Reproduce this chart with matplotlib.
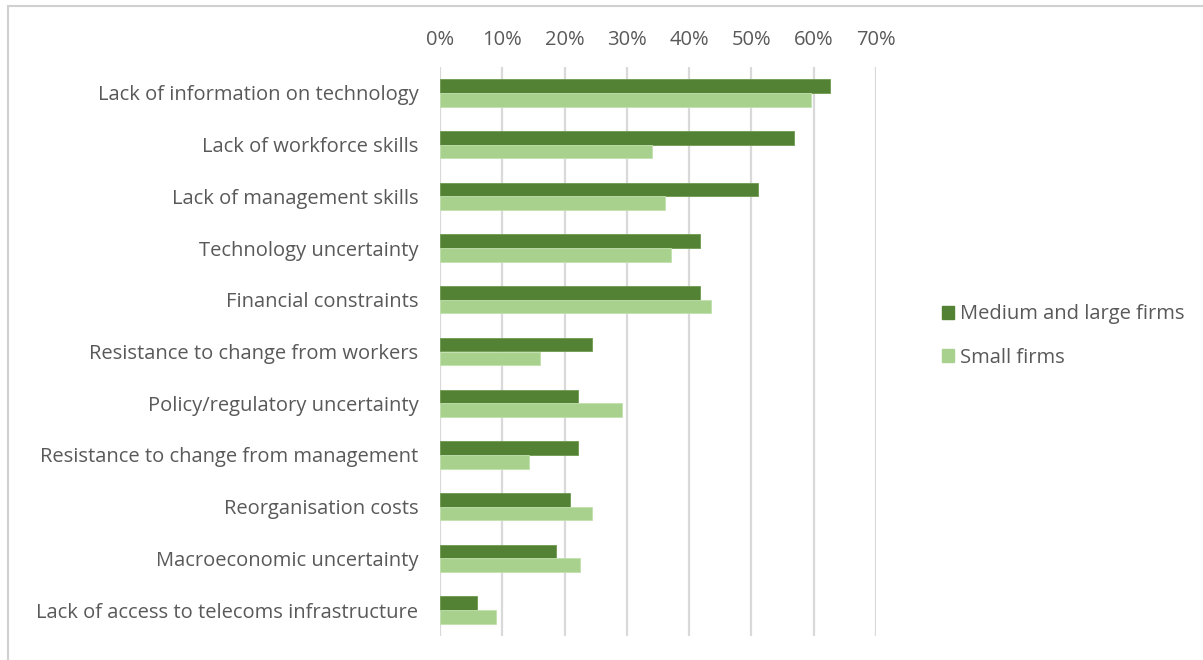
import matplotlib
matplotlib.use("Agg")
import matplotlib.pyplot as plt
from matplotlib.patches import Patch, Rectangle
import numpy as np

categories = [
    "Lack of information on technology",
    "Lack of workforce skills",
    "Lack of management skills",
    "Technology uncertainty",
    "Financial constraints",
    "Resistance to change from workers",
    "Policy/regulatory uncertainty",
    "Resistance to change from management",
    "Reorganisation costs",
    "Macroeconomic uncertainty",
    "Lack of access to telecoms infrastructure",
]
medium_large = [62.6, 56.9, 51.1, 41.8, 41.8, 24.4, 22.2, 22.2, 20.9, 18.7, 6.0]
small = [59.5, 34.0, 36.1, 37.1, 43.5, 16.0, 29.3, 14.3, 24.4, 22.4, 9.0]
series_names = ["Medium and large firms", "Small firms"]
x_ticks = [0, 10, 20, 30, 40, 50, 60, 70]

dark = "#548235"
light = "#A9D18E"
text_c = "#595959"
grid_c = "#D9D9D9"

plt.rcParams["font.family"] = ["Open Sans", "DejaVu Sans"]
fs = 14.5

W, H = 1203, 660
fig = plt.figure(figsize=(W / 100, H / 100), dpi=100)
ax = fig.add_axes([440 / W, 1 - 636 / H, 436 / W, (636 - 67) / H])

y = np.arange(len(categories))
bh = 0.265
ax.barh(y - bh / 2, medium_large, height=bh, color=dark, edgecolor="#6E9A4E", linewidth=0.6, zorder=3)
ax.barh(y + bh / 2, small, height=bh, color=light, edgecolor="#C2E0AE", linewidth=0.6, zorder=3)

ax.set_xlim(0, 70)
ax.set_ylim(len(categories) - 0.5, -0.5)
ax.set_yticks(y)
ax.set_yticklabels(categories, fontsize=fs, color=text_c)
ax.set_xticks(x_ticks)
ax.set_xticklabels([f"{v}%" for v in x_ticks], fontsize=fs, color=text_c)
ax.xaxis.tick_top()
ax.tick_params(axis="x", length=0, pad=12.5)
ax.tick_params(axis="y", length=0, pad=15.5)
ax.grid(axis="x", color=grid_c, linewidth=1.6, zorder=0)
for s in ax.spines.values():
    s.set_visible(False)

handles = [Patch(facecolor=dark, edgecolor=dark), Patch(facecolor=light, edgecolor=light)]
fig.legend(handles, series_names, loc="center left", bbox_to_anchor=(924 / W, 1 - 336 / H),
           frameon=False, fontsize=fs, labelcolor=text_c, handlelength=0.6, handleheight=0.6,
           handletextpad=0.3, labelspacing=1.15)

# outer chart frame
fig.patches.append(Rectangle((8 / W, -0.1), 1.2, (1 - 6 / H) + 0.1, transform=fig.transFigure,
                             fill=False, edgecolor="#D0D0D0", linewidth=1.5))

fig.savefig("out.png", dpi=100)
